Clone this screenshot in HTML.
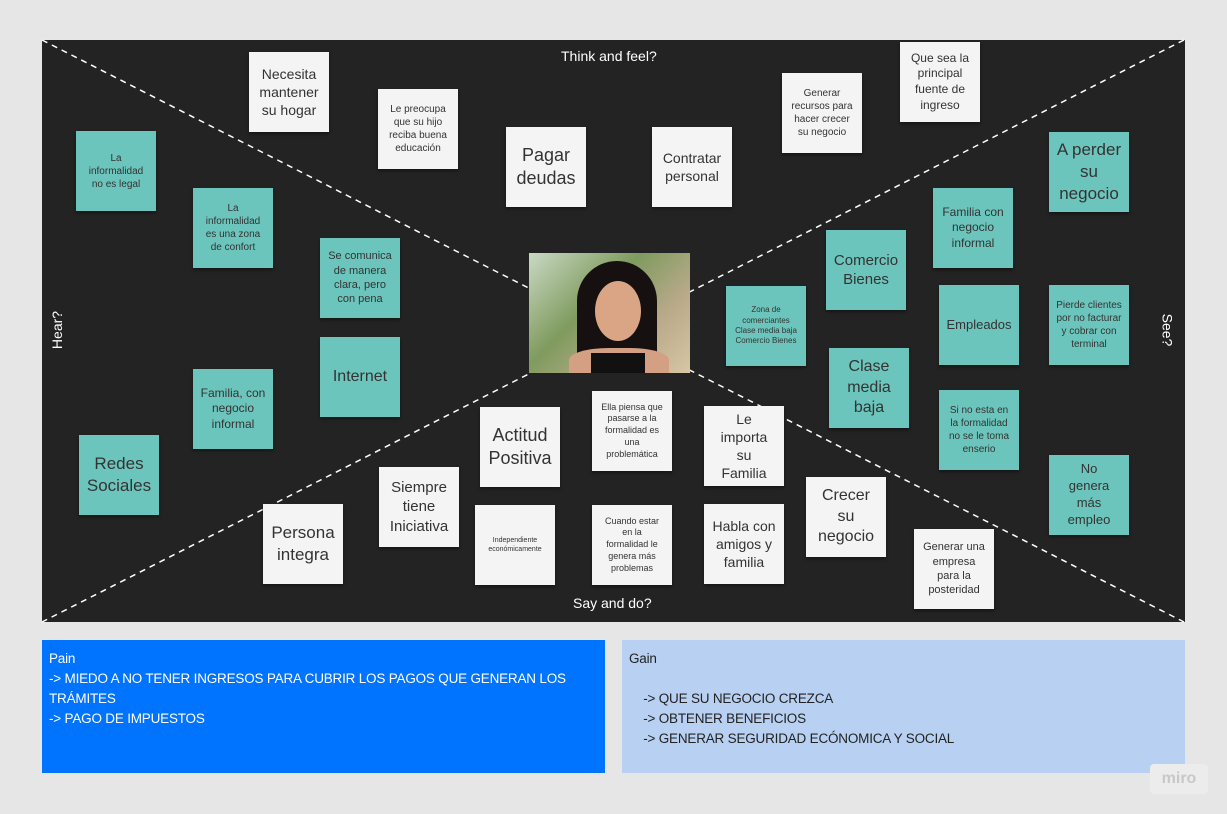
<!DOCTYPE html>
<html><head><meta charset="utf-8"><style>
*{margin:0;padding:0;box-sizing:border-box}
body{width:1227px;height:814px;background:#e6e6e6;position:relative;overflow:hidden;font-family:"Liberation Sans",sans-serif}
#board{position:absolute;left:42px;top:40px;width:1143px;height:582px;background:#232323}
.n{position:absolute;width:80px;height:80px;display:flex;align-items:center;justify-content:center;text-align:center;color:#333;line-height:1.3;padding:3px 6px;box-shadow:0 2px 3px rgba(0,0,0,.4)}
.w{background:#f4f4f4}
.t{background:#6cc5bc}
.lbl{position:absolute;color:#fff;font-size:14px}
.box{position:absolute;top:640px;width:563px;height:133px;padding:9px 7px;font-size:13.5px;line-height:20px;letter-spacing:-0.2px}
</style></head><body>
<div id="board"></div>
<svg style="position:absolute;left:0;top:0" width="1227" height="814">
<line x1="42" y1="40" x2="1184" y2="622" stroke="#fff" stroke-width="1.5" stroke-dasharray="6,5"/>
<line x1="1184" y1="40" x2="42" y2="622" stroke="#fff" stroke-width="1.5" stroke-dasharray="6,5"/>
</svg>
<div class="lbl" style="left:561px;top:48px">Think and feel?</div>
<div class="lbl" style="left:573px;top:595px">Say and do?</div>
<div class="lbl" style="left:38px;top:322px;transform:rotate(-90deg)">Hear?</div>
<div class="lbl" style="left:1151px;top:322px;transform:rotate(90deg)">See?</div>

<div style="position:absolute;left:529px;top:253px;width:161px;height:120px;background:linear-gradient(135deg,#c9d9c4,#7f9b5e 40%,#b8a98a 70%,#d8c6a4);overflow:hidden">
<div style="position:absolute;left:48px;top:8px;width:80px;height:112px;background:#161010;border-radius:40px 40px 6px 6px"></div>
<div style="position:absolute;left:66px;top:28px;width:46px;height:60px;background:#d9a584;border-radius:50%"></div>
<div style="position:absolute;left:40px;top:95px;width:100px;height:30px;background:#d4a083;border-radius:40% 40% 0 0"></div>
<div style="position:absolute;left:62px;top:100px;width:54px;height:30px;background:#111"></div>
</div>

<div class="n w" style="left:249px;top:52px;font-size:14px">Necesita mantener su hogar</div>
<div class="n w" style="left:378px;top:89px;font-size:10px">Le preocupa que su hijo reciba buena educación</div>
<div class="n w" style="left:506px;top:127px;font-size:18px">Pagar deudas</div>
<div class="n w" style="left:652px;top:127px;font-size:14px">Contratar personal</div>
<div class="n w" style="left:782px;top:73px;font-size:10px">Generar recursos para hacer crecer su negocio</div>
<div class="n w" style="left:900px;top:42px;font-size:12px">Que sea la principal fuente de ingreso</div>
<div class="n w" style="left:480px;top:407px;font-size:18px">Actitud Positiva</div>
<div class="n w" style="left:592px;top:391px;font-size:9px">Ella piensa que pasarse a la formalidad es una problemática</div>
<div class="n w" style="left:704px;top:406px;font-size:14px;padding:3px 10px">Le importa su Familia</div>
<div class="n w" style="left:379px;top:467px;font-size:15px">Siempre tiene Iniciativa</div>
<div class="n w" style="left:263px;top:504px;font-size:17px">Persona integra</div>
<div class="n w" style="left:475px;top:505px;font-size:7px">Independiente económicamente</div>
<div class="n w" style="left:592px;top:505px;font-size:9px;padding:3px 8px">Cuando estar en la formalidad le genera más problemas</div>
<div class="n w" style="left:704px;top:504px;font-size:14px">Habla con amigos y familia</div>
<div class="n w" style="left:806px;top:477px;font-size:16px;padding:3px 10px">Crecer su negocio</div>
<div class="n w" style="left:914px;top:529px;font-size:11px;padding:3px 9px">Generar una empresa para la posteridad</div>

<div class="n t" style="left:76px;top:131px;font-size:10px;padding:3px 9px">La informalidad no es legal</div>
<div class="n t" style="left:193px;top:188px;font-size:10px;padding:3px 8px">La informalidad es una zona de confort</div>
<div class="n t" style="left:320px;top:238px;font-size:11px">Se comunica de manera clara, pero con pena</div>
<div class="n t" style="left:320px;top:337px;font-size:16px">Internet</div>
<div class="n t" style="left:193px;top:369px;font-size:12px">Familia, con negocio informal</div>
<div class="n t" style="left:79px;top:435px;font-size:17px">Redes Sociales</div>
<div class="n t" style="left:726px;top:286px;font-size:8px">Zona de comerciantes Clase media baja Comercio Bienes</div>
<div class="n t" style="left:826px;top:230px;font-size:15px">Comercio Bienes</div>
<div class="n t" style="left:829px;top:348px;font-size:16px;padding:3px 12px">Clase media baja</div>
<div class="n t" style="left:933px;top:188px;font-size:12px">Familia con negocio informal</div>
<div class="n t" style="left:939px;top:285px;font-size:13px">Empleados</div>
<div class="n t" style="left:939px;top:390px;font-size:10px;padding:3px 8px">Si no esta en la formalidad no se le toma enserio</div>
<div class="n t" style="left:1049px;top:132px;font-size:17px">A perder su negocio</div>
<div class="n t" style="left:1049px;top:285px;font-size:10px">Pierde clientes por no facturar y cobrar con terminal</div>
<div class="n t" style="left:1049px;top:455px;font-size:13px;padding:3px 10px">No genera más empleo</div>

<div class="box" style="left:42px;background:#0073ff;color:#fff">Pain<br>-&gt; MIEDO A NO TENER INGRESOS PARA CUBRIR LOS PAGOS QUE GENERAN LOS<br>TRÁMITES<br>-&gt; PAGO DE IMPUESTOS</div>
<div class="box" style="left:622px;background:#b8d1f3;color:#222">Gain<br><br>&nbsp;&nbsp;&nbsp;&nbsp;-&gt; QUE SU NEGOCIO CREZCA<br>&nbsp;&nbsp;&nbsp;&nbsp;-&gt; OBTENER BENEFICIOS<br>&nbsp;&nbsp;&nbsp;&nbsp;-&gt; GENERAR SEGURIDAD ECÓNOMICA Y SOCIAL</div>
<div style="position:absolute;left:1150px;top:764px;width:58px;height:30px;background:#ececec;border-radius:4px;color:#c8c8c8;font-size:16px;font-weight:bold;text-align:center;line-height:30px">miro</div>
</body></html>
